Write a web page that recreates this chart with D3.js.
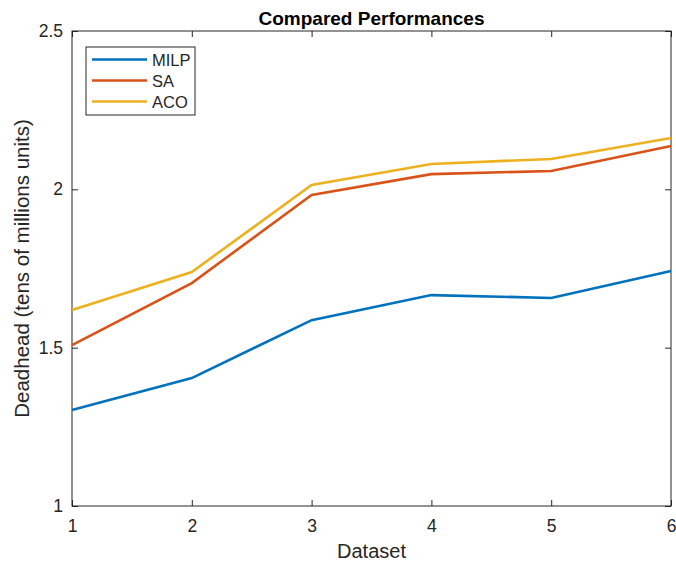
<!DOCTYPE html>
<html>
<head>
<meta charset="utf-8">
<script src="https://cdn.jsdelivr.net/npm/d3@7"></script>
<style>
  body { margin: 0; background: #fff; }
  text { font-family: "Liberation Sans", Arial, sans-serif; fill: #262626; }
</style>
</head>
<body>
<div id="chart"></div>
<script>
// data
const datasets = [1, 2, 3, 4, 5, 6];
const milp = [1.303, 1.404, 1.587, 1.666, 1.657, 1.742];
const sa   = [1.508, 1.704, 1.982, 2.048, 2.058, 2.137];
const aco  = [1.619, 1.739, 2.014, 2.080, 2.096, 2.162];
const seriesNames = ["MILP", "SA", "ACO"];
const seriesColors = ["#0072BD", "#D95319", "#EDB120"];
const yTicks = [1, 1.5, 2, 2.5];

const W = 676, H = 567;
const margin = {top: 31, right: 5, bottom: 61, left: 72};
const width = W - margin.left - margin.right;
const height = H - margin.top - margin.bottom;

const svg = d3.select("#chart").append("svg")
    .attr("width", W).attr("height", H);
const g = svg.append("g")
    .attr("transform", "translate(" + margin.left + "," + margin.top + ")");

const x = d3.scaleLinear().domain([1, 6]).range([0, width]);
const y = d3.scaleLinear().domain([1, 2.5]).range([height, 0]);

// box
g.append("rect")
    .attr("width", width).attr("height", height)
    .attr("fill", "none").attr("stroke", "#262626").attr("stroke-width", 1);

// axes
const xAxis = g.append("g").attr("transform", "translate(0," + height + ")")
    .call(d3.axisBottom(x).tickValues(datasets).tickFormat(d3.format("d")).tickSizeInner(-6).tickSizeOuter(0).tickPadding(14));
const xTop = g.append("g")
    .call(d3.axisTop(x).tickValues(datasets).tickFormat("").tickSizeInner(-6).tickSizeOuter(0));
const yAxis = g.append("g")
    .call(d3.axisLeft(y).tickValues(yTicks).tickFormat(d => d).tickSizeInner(-6).tickSizeOuter(0).tickPadding(9));
const yRight = g.append("g").attr("transform", "translate(" + width + ",0)")
    .call(d3.axisRight(y).tickValues(yTicks).tickFormat("").tickSizeInner(-6).tickSizeOuter(0));

[xAxis, xTop, yAxis, yRight].forEach(a => {
    a.select(".domain").remove();
    a.selectAll("line").attr("stroke", "#262626");
    a.selectAll("text").attr("font-size", 17.5).attr("fill", "#262626")
        .style("font-family", "'Liberation Sans', Arial, sans-serif");
});

// lines
const allSeries = [milp, sa, aco];
const line = d3.line().x((d, i) => x(datasets[i])).y(d => y(d));
allSeries.forEach((s, i) => {
    g.append("path").datum(s)
        .attr("d", line)
        .attr("fill", "none")
        .attr("stroke", seriesColors[i])
        .attr("stroke-width", 2.6);
});

// title and labels
svg.append("text")
    .attr("x", margin.left + width / 2).attr("y", 25)
    .attr("text-anchor", "middle")
    .attr("font-size", 19).attr("font-weight", "bold")
    .style("fill", "#000")
    .text("Compared Performances");

svg.append("text")
    .attr("x", margin.left + width / 2).attr("y", 558)
    .attr("text-anchor", "middle")
    .attr("font-size", 20)
    .text("Dataset");

svg.append("text")
    .attr("transform", "translate(29," + (margin.top + height / 2) + ") rotate(-90)")
    .attr("text-anchor", "middle")
    .attr("font-size", 20.5)
    .text("Deadhead (tens of millions units)");

// legend
const lg = svg.append("g").attr("transform", "translate(86,47)");
lg.append("rect")
    .attr("width", 109).attr("height", 68)
    .attr("fill", "#fff").attr("stroke", "#262626").attr("stroke-width", 1);
seriesNames.forEach((n, i) => {
    const yy = 12.5 + i * 21;
    lg.append("line")
        .attr("x1", 6).attr("x2", 61).attr("y1", yy).attr("y2", yy)
        .attr("stroke", seriesColors[i]).attr("stroke-width", 2.6);
    lg.append("text")
        .attr("x", 66).attr("y", yy + 6)
        .attr("font-size", 16.5)
        .text(n);
});
</script>
</body>
</html>
